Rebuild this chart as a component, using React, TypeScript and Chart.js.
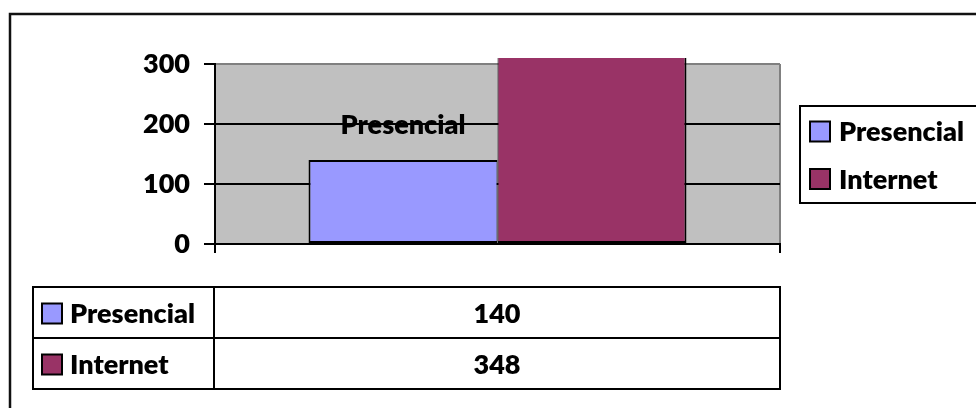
import React, { useEffect, useRef } from 'react';
import { Chart, registerables } from 'chart.js';

Chart.register(...registerables);

// Chart data
const categories = [''];
const seriesNames = ['Presencial', 'Internet'];
const presencialValues = [140];
const internetValues = [348];
const seriesColors = ['#9999FF', '#993366'];
const yMin = 0;
const yMax = 300;
const yStep = 100;

const FONT = 'Lato, "Open Sans", sans-serif';
const WEIGHT = 800;
const FONT_PX = 27;
const BOLD = (px: number) => `${WEIGHT} ${px}px ${FONT}`;

// Plot background, outer frame, legend box, data table and the series-name label
const excelDecor = {
  id: 'excelDecor',
  beforeDraw(chart: any) {
    const { ctx, chartArea } = chart;
    ctx.save();
    ctx.fillStyle = '#FFFFFF';
    ctx.fillRect(0, 0, chart.width, chart.height);
    ctx.fillStyle = '#C0C0C0';
    ctx.fillRect(chartArea.left, chartArea.top, chartArea.right - chartArea.left, chartArea.bottom - chartArea.top);
    // outer frame
    ctx.strokeStyle = '#111';
    ctx.lineWidth = 2.5;
    ctx.strokeRect(10, 14, chart.width + 40, chart.height + 40);
    ctx.restore();
  },
  afterDraw(chart: any) {
    const { ctx, chartArea } = chart;
    const datasets = chart.data.datasets;
    ctx.save();

    // legend
    ctx.lineWidth = 2;
    ctx.strokeStyle = '#000';
    ctx.fillStyle = '#FFF';
    ctx.fillRect(800, 106, 200, 97);
    ctx.strokeRect(800, 106, 200, 97);
    ctx.font = BOLD(FONT_PX);
    ctx.textBaseline = 'middle';
    ctx.textAlign = 'left';
    const legendRows = [131.5, 179];
    datasets.forEach((ds: any, i: number) => {
      const cy = legendRows[i];
      ctx.fillStyle = ds.backgroundColor;
      ctx.fillRect(810, cy - 10, 20, 20);
      ctx.strokeRect(810, cy - 10, 20, 20);
      ctx.fillStyle = '#000';
      ctx.fillText(ds.label, 839, cy + 1);
    });

    // data table
    const tLeft = 33;
    const tTop = 287;
    const rowH = 51;
    const colX = chartArea.left - 1;
    const tRight = chartArea.right;
    ctx.lineWidth = 2;
    ctx.strokeStyle = '#000';
    ctx.strokeRect(tLeft, tTop, tRight - tLeft, rowH * datasets.length);
    ctx.beginPath();
    ctx.moveTo(colX, tTop);
    ctx.lineTo(colX, tTop + rowH * datasets.length);
    for (let i = 1; i < datasets.length; i++) {
      ctx.moveTo(tLeft, tTop + rowH * i);
      ctx.lineTo(tRight, tTop + rowH * i);
    }
    ctx.stroke();
    datasets.forEach((ds: any, i: number) => {
      const cy = tTop + rowH * i + rowH / 2 + 1;
      ctx.fillStyle = ds.backgroundColor;
      ctx.fillRect(42, cy - 10, 20, 20);
      ctx.strokeRect(42, cy - 10, 20, 20);
      ctx.fillStyle = '#000';
      ctx.textAlign = 'left';
      ctx.fillText(ds.label, 70, cy + 1);
      ctx.textAlign = 'center';
      ctx.fillText(String(ds.data[0]), (colX + tRight) / 2, cy + 1);
    });

    // series-name label above the first bar
    const el = chart.getDatasetMeta(0).data[0];
    if (el) {
      ctx.fillStyle = '#000';
      ctx.textAlign = 'center';
      ctx.textBaseline = 'middle';
      ctx.font = BOLD(FONT_PX);
      ctx.fillText(datasets[0].label, el.x, el.y - 35);
    }
    ctx.restore();
  },
};

export default function App() {
  const canvasRef = useRef<HTMLCanvasElement | null>(null);

  useEffect(() => {
    if (!canvasRef.current) return;
    const barStyle = {
      borderColor: '#000',
      borderSkipped: false as const,
      barPercentage: 1,
      categoryPercentage: 0.669,
      clip: { left: 0, top: 6, right: 0, bottom: 2 },
    };
    const chart = new Chart(canvasRef.current, {
      type: 'bar',
      data: {
        labels: categories,
        datasets: [
          {
            label: seriesNames[0],
            data: presencialValues,
            backgroundColor: seriesColors[0],
            borderWidth: { top: 2, left: 2, bottom: 2, right: 1 },
            ...barStyle,
          },
          {
            label: seriesNames[1],
            data: internetValues,
            backgroundColor: seriesColors[1],
            borderWidth: { top: 2, left: 1, bottom: 2, right: 2 },
            ...barStyle,
          },
        ],
      },
      plugins: [excelDecor],
      options: {
        responsive: false,
        animation: false,
        devicePixelRatio: 1,
        layout: { padding: { left: 0, top: 64, right: 196, bottom: 0 } },
        plugins: {
          legend: { display: false },
          tooltip: { enabled: false },
        },
        scales: {
          x: {
            offset: true,
            grid: {
              offset: true,
              color: (c: any) => (c.index === 0 ? '#000' : '#808080'),
              lineWidth: 2,
              tickColor: '#000',
              tickLength: 9,
              drawTicks: true,
            },
            border: { color: '#000', width: 2 },
            ticks: { display: true },
            afterFit: (scale: any) => {
              scale.height = 164;
            },
          },
          y: {
            min: yMin,
            max: yMax,
            ticks: {
              stepSize: yStep,
              padding: 14,
              color: '#000',
              font: { family: FONT, size: FONT_PX, weight: WEIGHT as any },
            },
            grid: {
              color: (c: any) => (c.tick && c.tick.value === yMax ? '#808080' : '#000'),
              lineWidth: 2,
              tickColor: '#000',
              tickLength: 11,
            },
            border: { color: '#000', width: 2 },
            afterFit: (scale: any) => {
              scale.width = 215;
            },
          },
        },
      },
    });
    return () => chart.destroy();
  }, []);

  return (
    <div style={{ position: 'fixed', left: 0, top: 0, width: 976, height: 408, background: '#fff' }}>
      <canvas ref={canvasRef} width={976} height={408} style={{ display: 'block', width: 976, height: 408 }} />
    </div>
  );
}
